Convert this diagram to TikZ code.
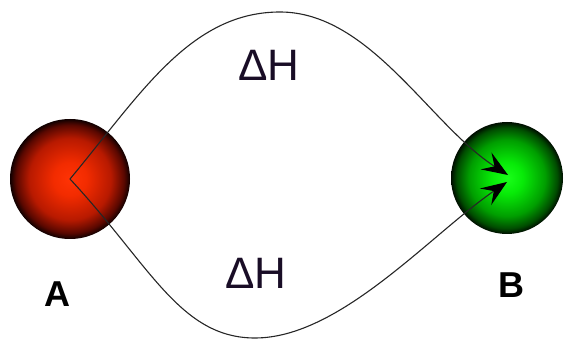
\documentclass[tikz,border=0pt]{standalone}
\usepackage{fontspec}
\setmainfont{Liberation Sans}
\usetikzlibrary{arrows.meta}
\definecolor{rA}{rgb}{1,0.2,0.02}
\definecolor{rB}{rgb}{0.95,0.17,0}
\definecolor{rC}{rgb}{0.72,0.1,0}
\definecolor{rD}{rgb}{0.35,0.03,0}
\definecolor{rE}{rgb}{0.06,0,0}
\definecolor{gA}{rgb}{0.1,1,0.1}
\definecolor{gB}{rgb}{0.03,0.92,0.03}
\definecolor{gC}{rgb}{0,0.62,0}
\definecolor{gD}{rgb}{0,0.3,0}
\definecolor{gE}{rgb}{0,0.05,0}
\definecolor{txt}{rgb}{0.1,0.05,0.15}
\pgfdeclareradialshading{redball}{\pgfpoint{0bp}{0bp}}{%
  color(0bp)=(rA);
  color(7bp)=(rB);
  color(17bp)=(rC);
  color(22.5bp)=(rD);
  color(25bp)=(rE);
  color(50bp)=(rE)}
\pgfdeclareradialshading{greenball}{\pgfpoint{0bp}{0bp}}{%
  color(0bp)=(gA);
  color(7bp)=(gB);
  color(17bp)=(gC);
  color(22.5bp)=(gD);
  color(25bp)=(gE);
  color(50bp)=(gE)}
\tikzset{
  ball/.style={circle, inner sep=0pt, minimum size=#1},
  path/.style={draw=black!85, line width=1.1pt},
  arr/.style={-{Stealth[length=26pt,width=20pt,inset=10pt,fill=black,color=black]}},
  dh/.style={font=\fontsize{44}{48}\selectfont, text=txt},
  lab/.style={font=\fontsize{36}{38}\selectfont\bfseries}
}
\begin{document}
\begin{tikzpicture}[x=1pt,y=-1pt]
\useasboundingbox (0,0) rectangle (564,344);
\node[ball=120pt, shading=redball] (A) at (70,179) {};
\node[ball=112pt, shading=greenball] (B) at (507,178) {};
\node[dh] (dh1) at (269,65) {ΔH};
\node[dh] (dh2) at (256,273) {ΔH};
\node[lab] (la) at (57,294) {A};
\node[lab] (lb) at (511,285) {B};
\coordinate (t1) at (508,175);
\coordinate (t2) at (507,182);
\draw[path, arr] (A.center) .. controls (140,95) and (190,12) .. (280,12)
  .. controls (370,12) and (430,125) .. (t1);
\draw[path, arr] (A.center) .. controls (150,265) and (180,338) .. (255,338)
  .. controls (340,338) and (430,235) .. (t2);
\end{tikzpicture}
\end{document}
